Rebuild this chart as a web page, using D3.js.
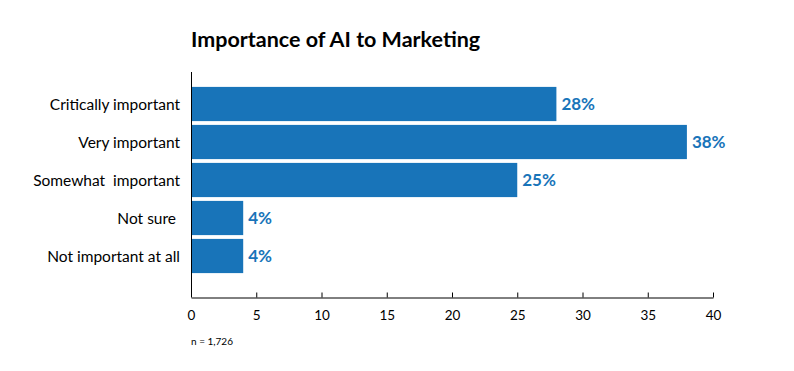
<!DOCTYPE html>
<html>
<head>
<meta charset="utf-8">
<script src="https://cdn.jsdelivr.net/npm/d3@7"></script>
<style>
  body { margin: 0; background: #fff; }
  svg { font-family: Lato, "Open Sans", sans-serif; }
</style>
</head>
<body>
<script>
/* importance of AI chart */
var categories = ["Critically important", "Very important", "Somewhat  important", "Not sure", "Not important at all"];
var values = [28, 38, 25, 4, 4];
var xTicks = [0, 5, 10, 15, 20, 25, 30, 35, 40];

var barColor = "#1874b9";

var svg = d3.select("body").append("svg")
    .attr("width", 794)
    .attr("height", 371);

var x = d3.scaleLinear().domain([0, 40]).range([191, 713]);
var y = d3.scaleBand().domain(categories).range([85, 275])
    .paddingInner(0.1)
    .paddingOuter(0.05);

// title
svg.append("text")
    .attr("x", 191)
    .attr("y", 47)
    .style("font-size", "21.5px")
    .style("font-weight", "bold")
    .attr("fill", "#000")
    .text("Importance of AI to Marketing");

// bars
svg.selectAll("rect.bar")
    .data(values)
    .enter()
    .append("rect")
    .attr("class", "bar")
    .attr("x", x(0))
    .attr("y", function(d, i) { return y(categories[i]); })
    .attr("width", function(d) { return x(d) - x(0); })
    .attr("height", y.bandwidth())
    .attr("fill", barColor);

// value labels
svg.selectAll("text.val")
    .data(values)
    .enter()
    .append("text")
    .attr("class", "val")
    .attr("x", function(d) { return x(d) + 5; })
    .attr("y", function(d, i) { return y(categories[i]) + y.bandwidth() / 2; })
    .attr("dy", "0.36em")
    .style("font-size", "17px")
    .style("font-weight", "bold")
    .attr("fill", barColor)
    .text(function(d) { return d + "%"; });

// category labels
svg.selectAll("text.cat")
    .data(categories)
    .enter()
    .append("text")
    .attr("class", "cat")
    .attr("x", function(d) { return d === "Not sure" ? 176 : 180; })
    .attr("y", function(d) { return y(d) + y.bandwidth() / 2; })
    .attr("dy", "0.36em")
    .attr("text-anchor", "end")
    .style("font-size", "15.5px")
    .style("white-space", "pre")
    .attr("fill", "#000")
    .text(function(d) { return d; });

// y axis line
svg.append("line")
    .attr("x1", 191.5).attr("x2", 191.5)
    .attr("y1", 72).attr("y2", 297)
    .attr("stroke", "#000");

// x axis
var xAxis = d3.axisBottom(x)
    .tickValues(xTicks)
    .tickSizeInner(-5)
    .tickSizeOuter(0)
    .tickPadding(13);

var gx = svg.append("g")
    .attr("transform", "translate(0,297.5)")
    .call(xAxis);
gx.select(".domain").attr("stroke", "#000");
gx.selectAll(".tick line").attr("stroke", "#000");
gx.selectAll(".tick text")
    .style("font-size", "13.5px")
    .style("font-family", "Lato, sans-serif")
    .attr("fill", "#000");

// note
svg.append("text")
    .attr("x", 191)
    .attr("y", 345)
    .style("font-size", "10px")
    .attr("fill", "#000")
    .text("n = 1,726");
</script>
</body>
</html>
